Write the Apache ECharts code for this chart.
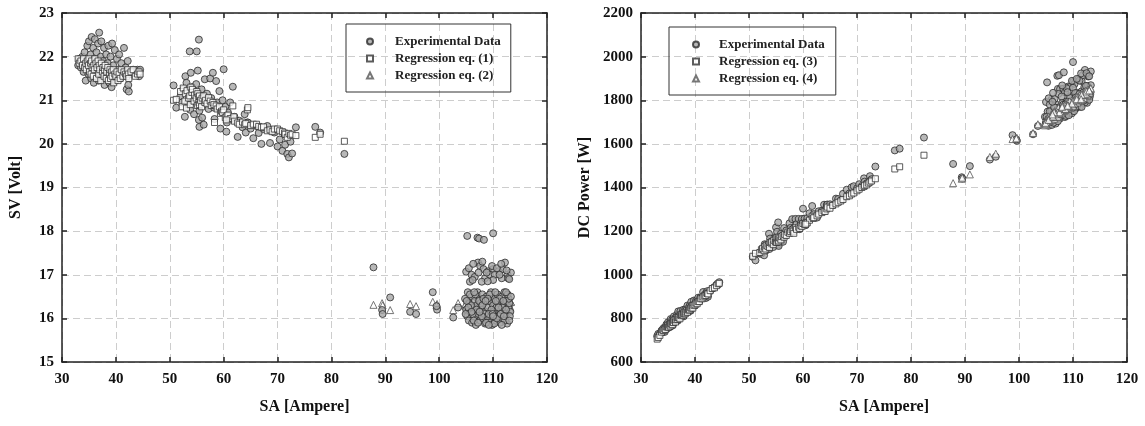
<!DOCTYPE html>
<html>
<head>
<meta charset="utf-8">
<title>SV and DC power vs SA</title>
<script src="https://cdn.jsdelivr.net/npm/echarts@6/dist/echarts.min.js"></script>
<style>
  html, body { margin: 0; padding: 0; background: #fff; }
  #main { width: 1145px; height: 426px; }
</style>
</head>
<body>
<div id="main"></div>
<script>
// low current samples (SA < 85 A), fitted with eq. (1) and eq. (3)
var saLow = [33.0,33.2,33.5,33.8,34.0,34.2,34.4,34.5,34.7,34.9, 35.0,35.1,35.3,35.4,35.5,35.6,35.8,35.9,36.0,36.1,
  36.3,36.4,36.5,36.7,36.8,36.9,37.0,37.2,37.3,37.5, 37.6,37.8,37.9,38.0,38.2,38.3,38.5,38.6,38.8,38.9,
  39.0,39.2,39.3,39.5,39.6,39.8,40.0,40.2,40.4,40.6, 40.8,41.0,41.3,41.5,41.8,42.0,42.2,42.3,42.4,42.8,
  43.2,43.6,44.0,44.3,44.5,
  50.7,51.2,52.0,52.3,52.5,52.8,52.9,53.1,53.2,53.5, 53.7,53.8,53.9,54.1,54.2,54.5,54.6,54.9,55.0,55.1,
  55.2,55.4,55.4,55.5,55.5,55.7,55.9,56.0,56.3,56.5, 56.6,56.9,57.2,57.5,57.7,58.0,58.2,58.3,58.6,58.8,
  59.2,59.4,59.6,59.8,60.0,60.3,60.6,60.8,61.2,61.7, 61.9,60.5,62.0,62.6,62.9,63.5,63.9,64.1,64.4,64.5,
  65.0,65.5,66.1,66.5,67.0,67.4,68.1,68.6,69.0,69.4, 70.0,70.4,70.9,71.3,71.4,71.8,72.1,72.4,72.7,73.4,
  77.0,77.9,82.4];
var svLow = [21.80,21.95,21.75,22.00,21.65,22.10,21.45,21.90,22.25,21.60, 22.35,21.80,22.05,21.50,22.45,21.70,22.20,21.40,21.95,22.40,
  21.60,22.10,21.85,22.30,21.45,22.55,21.70,22.00,22.35,21.55, 21.90,22.20,21.35,21.75,22.05,21.50,21.85,22.25,21.40,21.65,
  22.00,21.30,22.30,21.80,21.55,22.15,21.45,21.95,21.70,22.05, 21.50,21.85,21.60,22.20,21.75,21.25,21.90,21.35,21.20,21.60,
  21.70,21.65,21.70,21.55,21.70,
  21.34,20.83,21.10,20.95,21.25,20.62,21.55,21.40,20.91,21.15, 22.12,20.78,21.63,21.30,20.98,20.68,21.20,21.37,22.12,20.90,
  21.68,22.39,20.55,20.39,20.76,21.05,21.25,20.60,20.44,21.48, 20.95,21.15,20.80,21.50,21.05,21.63,20.83,20.57,21.44,20.95,
  21.21,20.35,20.75,21.00,21.71,20.85,20.49,20.72,20.95,21.31, 20.55,20.28,20.62,20.16,20.53,20.38,20.68,20.26,20.49,20.49,
  20.35,20.13,20.41,20.25,20.00,20.34,20.41,20.02,20.30,20.26, 19.94,20.10,19.84,20.22,19.98,19.77,19.69,20.05,19.78,20.38,
  20.39,20.26,19.77];
var svEq1 = [21.95,21.85,21.90,21.80,21.95,21.75,21.85,21.70,21.90,21.80, 21.95,21.65,21.85,21.60,21.90,21.75,21.55,21.80,21.70,21.95,
  21.85,21.50,21.75,21.90,21.60,21.80,21.70,21.45,21.85,21.65, 21.75,21.55,21.70,21.80,21.50,21.65,21.75,21.45,21.60,21.70,
  21.50,21.65,21.55,21.70,21.40,21.60,21.55,21.65,21.45,21.60, 21.50,21.70,21.55,21.65,21.60,21.55,21.70,21.60,21.50,21.65,
  21.70,21.55,21.60,21.65,21.60,
  21.00,21.02,21.20,20.85,21.28,20.98,21.15,20.82,21.22,21.05, 21.10,20.90,21.30,21.18,21.25,20.98,21.12,21.05,21.20,20.88,
  21.15,21.08,20.95,20.90,21.10,21.00,20.85,21.05,21.10,20.95, 21.00,20.92,21.06,20.98,20.88,20.95,20.90,20.49,20.87,20.80,
  20.85,20.70,20.75,20.72,20.78,20.60,20.64,20.66,20.58,20.87, 20.62,20.55,20.52,20.48,20.45,20.50,20.44,20.47,20.78,20.83,
  20.42,20.45,20.45,20.40,20.38,20.39,20.30,20.32,20.28,20.34, 20.34,20.30,20.28,20.25,20.22,20.15,20.24,20.20,20.22,20.19,
  20.15,20.22,20.06];
var powLow = [719,729,729,744,736,756,738,756,772,754, 782,765,778,761,797,773,795,768,790,809,
  784,804,798,818,789,832,803,818,834,808, 823,839,809,827,842,823,841,859,830,842,
  858,835,876,861,853,882,858,882,877,895, 877,896,892,921,909,893,924,903,899,925,
  937,944,955,955,966,
  1082,1066,1097,1096,1116,1089,1140,1136,1112,1132, 1188,1118,1166,1152,1137,1127,1158,1173,1217,1152,
  1197,1240,1138,1132,1152,1172,1188,1154,1151,1214, 1186,1203,1190,1236,1215,1255,1212,1199,1256,1232,
  1256,1209,1237,1256,1303,1257,1242,1260,1282,1315, 1272,1227,1278,1262,1291,1294,1321,1299,1320,1322,
  1323,1318,1349,1347,1340,1371,1390,1373,1401,1406, 1396,1415,1407,1442,1427,1419,1420,1452,1438,1496,
  1570,1578,1629];
var powEq3 = [705,712,722,737,746,744,752,749,760,761, 768,760,771,765,777,774,771,783,781,792,
  793,783,794,804,795,804,803,798,815,812, 818,815,822,828,821,829,837,828,838,844,
  839,849,847,857,847,860,862,870,867,877, 877,890,890,898,903,905,916,914,912,927,
  937,940,950,959,961,
  1085,1098,1102,1115,1120,1110,1128,1118,1135,1130, 1140,1125,1148,1145,1150,1138,1158,1150,1165,1148,
  1170,1162,1150,1155,1172,1168,1160,1175,1180,1172, 1185,1180,1195,1190,1198,1205,1200,1190,1215,1208,
  1218,1212,1225,1222,1235,1230,1240,1238,1250,1268, 1258,1232,1262,1270,1278,1285,1292,1290,1302,1310,
  1305,1318,1325,1332,1338,1345,1358,1362,1370,1375, 1385,1392,1400,1405,1410,1412,1420,1425,1430,1440,
  1485,1495,1548];

// high current samples, fitted with eq. (2) and eq. (4)
var saHigh = [87.8,89.4,89.5,90.9,94.6,95.7,98.8,99.6,99.5,102.6, 103.5,105.2,107.1,107.4,108.3,110.0,105.0,106.0,107.2,107.6,
  108.2,109.1,110.0,111.0,112.2,112.7,113.3,105.7,106.6,108.5, 109.4,111.6,112.8,107.3,110.3,111.8,107.9,108.8,111.2,110.0,
  104.8,105.0,105.2,105.3,105.5,105.6,105.8,106.0,106.1,106.3, 106.5,106.6,106.8,107.0,107.1,107.3,107.5,107.6,107.8,108.0,
  108.1,108.3,108.5,108.6,108.8,109.0,109.1,109.3,109.5,109.6, 109.8,110.0,110.1,110.3,110.5,110.6,110.8,111.0,111.1,111.3,
  111.5,111.6,111.8,112.0,112.1,112.3,112.5,112.6,112.8,113.0, 113.2,106.9,108.9,110.9,107.7,109.7,111.7,105.9,112.9,108.4,
  105.1,105.4,105.7,106.2,106.4,106.7,107.2,107.4,107.9,108.2, 108.7,109.2,109.4,109.9,110.2,110.4,110.7,111.2,111.4,111.9,
  112.2,112.4,112.7,113.1,113.3,106.0,107.5,108.0,109.0,110.0, 111.0,112.0,106.5,108.6,110.5,112.4,104.9,113.0,109.2,111.6,
  105.5,106.3,108.0,109.8,110.7,111.5,112.5,113.0,106.2,109.0];
var svHigh = [17.17,16.19,16.10,16.48,16.15,16.10,16.60,16.20,16.28,16.02, 16.25,17.89,17.85,17.83,17.80,17.95,17.07,17.00,17.28,17.20,
  17.13,17.08,17.13,17.08,17.28,17.00,17.05,16.84,16.95,16.92, 17.00,16.92,16.92,17.05,17.00,17.13,16.84,17.05,17.00,16.88,
  16.45,16.20,16.05,16.60,15.95,16.35,16.15,16.50,15.90,16.25, 16.05,16.40,15.85,16.30,16.60,16.10,16.45,15.95,16.20,16.55,
  16.00,16.35,15.88,16.15,16.50,16.25,15.92,16.40,16.05,16.60, 15.85,16.30,16.15,16.45,15.95,16.25,16.55,16.05,16.35,15.90,
  16.20,16.50,16.00,16.30,16.60,16.10,16.40,15.88,16.25,16.35, 16.15,16.20,16.05,16.40,16.35,16.20,16.25,16.30,16.45,16.10,
  16.40,16.25,16.55,16.10,15.95,16.55,15.90,16.40,16.05,16.45, 15.90,16.10,16.55,16.10,15.88,16.60,16.00,16.45,16.10,16.40,
  15.95,16.20,16.55,16.05,16.50,16.15,16.15,16.30,16.45,16.05, 16.25,16.05,16.60,16.40,16.40,16.60,16.10,15.95,15.85,15.85,
  17.15,17.25,17.30,17.20,17.15,17.25,17.10,16.90,16.88,16.85];
var svEq2 = [16.31,16.35,16.30,16.19,16.33,16.28,16.38,16.33,16.30,16.19, 16.35,16.40,16.25,16.35,16.20,16.30,16.28,16.35,16.22,16.40,
  16.30,16.18,16.42,16.25,16.35,16.20,16.38,16.22,16.40,16.28, 16.35,16.30,16.42,16.18,16.25,16.38,16.33,16.20,16.45,16.28,
  16.30,16.18,16.35,16.25,16.42,16.20,16.30,16.38,16.22,16.33, 16.15,16.40,16.28,16.35,16.20,16.45,16.25,16.32,16.18,16.40,
  16.28,16.35,16.22,16.38,16.25,16.30,16.42,16.20,16.33,16.28, 16.38,16.15,16.35,16.25,16.40,16.30,16.20,16.35,16.28,16.42,
  16.22,16.33,16.30,16.18,16.40,16.28,16.35,16.22,16.42,16.30, 16.25,16.30,16.22,16.38,16.25,16.35,16.20,16.33,16.28,16.40,
  16.30,16.22,16.35,16.28,16.40,16.25,16.33,16.20,16.38,16.28, 16.35,16.22,16.40,16.30,16.25,16.35,16.42,16.30,16.20,16.35,
  16.28,16.40,16.33,16.22,16.38,16.30,16.25,16.33,16.28,16.35, 16.22,16.30,16.38,16.20,16.30,16.25,16.33,16.35,16.25,16.40,
  16.35,16.28,16.40,16.25,16.33,16.20,16.38,16.30,16.42,16.30];
var powHigh = [1508,1447,1441,1498,1528,1541,1640,1614,1620,1644, 1682,1882,1912,1915,1928,1975,1792,1802,1852,1851,
  1853,1863,1884,1896,1939,1916,1932,1780,1807,1836, 1860,1888,1909,1829,1875,1915,1817,1855,1890,1857,
  1724,1701,1688,1748,1683,1727,1709,1749,1687,1727, 1709,1748,1693,1744,1778,1728,1768,1716,1746,1787,
  1730,1771,1723,1754,1795,1771,1737,1793,1757,1819, 1740,1793,1778,1814,1762,1797,1834,1782,1816,1770,
  1806,1841,1789,1826,1861,1808,1845,1788,1833,1848, 1828,1732,1748,1819,1761,1777,1815,1726,1857,1745,
  1724,1713,1749,1710,1697,1766,1704,1761,1732,1780, 1728,1758,1811,1769,1750,1833,1771,1829,1794,1835,
  1790,1821,1865,1815,1869,1712,1736,1760,1793,1766, 1804,1798,1768,1781,1812,1866,1689,1802,1731,1769,
  1809,1834,1868,1889,1898,1923,1924,1910,1793,1837];
var powEq4 = [1420,1440,1445,1460,1540,1555,1622,1628,1625,1650, 1690,1700,1735,1745,1750,1790,1695,1715,1730,1760,
  1755,1760,1800,1795,1830,1820,1850,1705,1740,1765, 1785,1815,1845,1725,1790,1825,1755,1760,1820,1785,
  1685,1690,1715,1700,1725,1705,1720,1735,1710,1730, 1715,1750,1735,1745,1725,1765,1745,1750,1740,1770,
  1755,1770,1755,1780,1765,1775,1790,1770,1785,1780, 1800,1775,1795,1790,1810,1800,1790,1810,1805,1825,
  1805,1820,1820,1810,1840,1830,1840,1825,1850,1845, 1840,1740,1765,1815,1750,1790,1805,1725,1840,1775,
  1700,1710,1720,1725,1740,1735,1745,1740,1765,1760, 1775,1770,1795,1790,1785,1805,1815,1810,1800,1830,
  1825,1845,1840,1835,1855,1728,1745,1765,1775,1795, 1800,1825,1745,1760,1800,1830,1695,1845,1775,1825,
  1710,1725,1770,1785,1805,1805,1840,1845,1735,1775];

// axis ranges: min, max, step
var saRange = [30, 120, 10];
var svRange = [15, 23, 1];
var powRange = [600, 2200, 200];

function pairs(xs, ys) {
  var out = [];
  for (var i = 0; i < xs.length; i++) out.push([xs[i], ys[i]]);
  return out;
}

var serif = '"Liberation Serif", "Times New Roman", serif';
var tickFont = {fontFamily: serif, fontWeight: 'bold', fontSize: 15, color: '#111'};
var nameFont = {fontFamily: serif, fontWeight: 'bold', fontSize: 16, color: '#111'};
var frameLine = {show: true, onZero: false, lineStyle: {color: '#222', width: 1.5}};
var innerTick = {show: true, inside: true, length: 5, lineStyle: {color: '#222', width: 1.5}};
var dashGrid = {show: true, lineStyle: {color: '#cdcdcd', width: 1, type: [7, 4]}};

function makeAxis(range, grid, pos, main, name, gap) {
  var ax = {
    type: 'value', gridIndex: grid, position: pos,
    min: range[0], max: range[1], interval: range[2],
    axisLine: frameLine, axisTick: innerTick,
    axisLabel: main ? Object.assign({margin: pos == 'bottom' ? 10 : 8, formatter: function (v) { return String(v); }}, tickFont) : {show: false},
    splitLine: main ? dashGrid : {show: false}
  };
  if (name) {
    ax.name = name;
    ax.nameLocation = 'middle';
    ax.nameGap = gap;
    ax.nameTextStyle = nameFont;
  }
  return ax;
}

var expStyle = {color: '#a6a6a6', borderColor: '#2a2a2a', borderWidth: 1};
var sqStyle = {color: '#fff', borderColor: '#333', borderWidth: 1};
var triStyle = {color: '#fff', borderColor: '#555', borderWidth: 1};

function legendBox(left, top, pad, textPad, names) {
  return {
    orient: 'vertical', left: left, top: top, padding: pad,
    itemWidth: 6, itemHeight: 6, itemGap: 4,
    borderColor: '#333', borderWidth: 1, selectedMode: false,
    textStyle: {fontFamily: serif, fontWeight: 'bold', fontSize: 13, color: '#222', padding: [0, 0, 0, textPad]},
    data: names
  };
}

var option = {
  animation: false,
  backgroundColor: '#fff',
  grid: [
    {left: 62, top: 13, width: 485, height: 349},
    {left: 641, top: 13, width: 486, height: 349}
  ],
  xAxis: [
    makeAxis(saRange, 0, 'bottom', true, 'SA [Ampere]', 37),
    makeAxis(saRange, 1, 'bottom', true, 'SA [Ampere]', 37),
    makeAxis(saRange, 0, 'top', false),
    makeAxis(saRange, 1, 'top', false)
  ],
  yAxis: [
    makeAxis(svRange, 0, 'left', true, 'SV [Volt]', 38),
    makeAxis(powRange, 1, 'left', true, 'DC Power [W]', 48),
    makeAxis(svRange, 0, 'right', false),
    makeAxis(powRange, 1, 'right', false)
  ],
  legend: [
    legendBox(346, 24, [11, 10, 10, 20], 17, ['Experimental Data', 'Regression eq. (1)', 'Regression eq. (2)']),
    legendBox(669, 27, [11, 11, 10, 23], 15, ['Experimental Data', 'Regression eq. (3)', 'Regression eq. (4)'])
  ],
  series: [
    {name: 'Regression eq. (2)', type: 'scatter', xAxisIndex: 0, yAxisIndex: 0, symbol: 'triangle', symbolSize: 7,
      itemStyle: triStyle, data: pairs(saHigh, svEq2)},
    {name: 'Experimental Data', type: 'scatter', xAxisIndex: 0, yAxisIndex: 0, symbol: 'circle', symbolSize: 7,
      itemStyle: expStyle, data: pairs(saLow.concat(saHigh), svLow.concat(svHigh))},
    {name: 'Regression eq. (1)', type: 'scatter', xAxisIndex: 0, yAxisIndex: 0, symbol: 'rect', symbolSize: 6,
      itemStyle: sqStyle, data: pairs(saLow, svEq1)},
    {name: 'Experimental Data', type: 'scatter', xAxisIndex: 1, yAxisIndex: 1, symbol: 'circle', symbolSize: 7,
      itemStyle: expStyle, data: pairs(saLow.concat(saHigh), powLow.concat(powHigh))},
    {name: 'Regression eq. (3)', type: 'scatter', xAxisIndex: 1, yAxisIndex: 1, symbol: 'rect', symbolSize: 6,
      itemStyle: sqStyle, data: pairs(saLow, powEq3)},
    {name: 'Regression eq. (4)', type: 'scatter', xAxisIndex: 1, yAxisIndex: 1, symbol: 'triangle', symbolSize: 7,
      itemStyle: triStyle, data: pairs(saHigh, powEq4)}
  ]
};

var chart = echarts.init(document.getElementById('main'));
chart.setOption(option);
</script>
</body>
</html>
